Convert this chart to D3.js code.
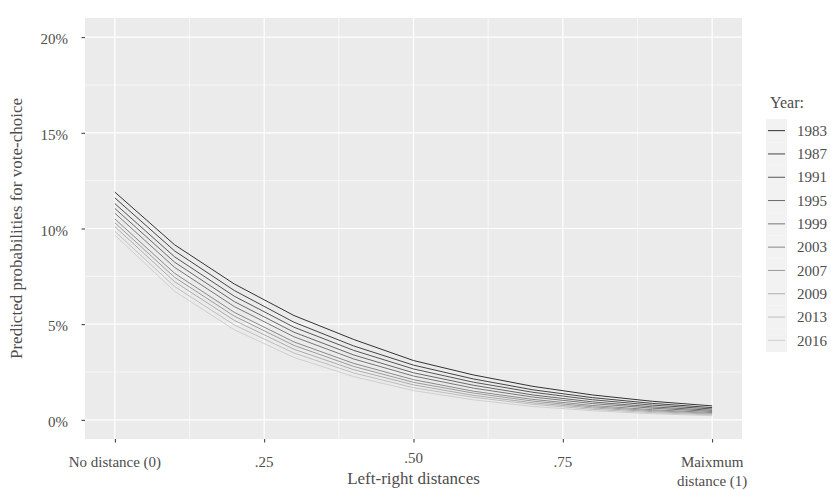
<!DOCTYPE html>
<html>
<head>
<meta charset="utf-8">
<script src="https://cdn.jsdelivr.net/npm/d3@7"></script>
<style>
    body { margin: 0; background: #ffffff; }
    text { font-family: "Liberation Serif", "DejaVu Serif", serif; fill: #4d4d4d; }
</style>
</head>
<body>
<svg id="chart" width="831" height="490"></svg>
<script>
// distances (0 -> 1)
var distances = [0, 0.1, 0.2, 0.3, 0.4, 0.5, 0.6, 0.7, 0.8, 0.9, 1];
var years = ["1983", "1987", "1991", "1995", "1999", "2003", "2007", "2009", "2013", "2016"];

// predicted probabilities, in %
var p1983 = [11.9, 9.15, 7.10, 5.45, 4.20, 3.10, 2.35, 1.75, 1.30, 0.97, 0.73];
var p1987 = [11.6, 8.83, 6.76, 5.10, 3.86, 2.86, 2.14, 1.57, 1.16, 0.86, 0.64];
var p1991 = [11.3, 8.52, 6.46, 4.84, 3.63, 2.66, 1.97, 1.44, 1.05, 0.77, 0.57];
var p1995 = [11.05, 8.24, 6.18, 4.58, 3.39, 2.46, 1.81, 1.30, 0.94, 0.68, 0.50];
var p1999 = [10.8, 7.97, 5.92, 4.34, 3.18, 2.29, 1.66, 1.19, 0.85, 0.61, 0.44];
var p2003 = [10.5, 7.66, 5.62, 4.07, 2.95, 2.10, 1.50, 1.07, 0.75, 0.53, 0.38];
var p2007 = [10.3, 7.45, 5.42, 3.89, 2.79, 1.96, 1.40, 0.98, 0.68, 0.48, 0.34];
var p2009 = [10.1, 7.22, 5.20, 3.69, 2.62, 1.83, 1.28, 0.89, 0.62, 0.43, 0.30];
var p2013 = [9.85, 6.97, 4.96, 3.49, 2.45, 1.68, 1.18, 0.81, 0.55, 0.38, 0.26];
var p2016 = [9.65, 6.72, 4.71, 3.26, 2.26, 1.53, 1.05, 0.70, 0.48, 0.32, 0.22];
var values = [p1983, p1987, p1991, p1995, p1999, p2003, p2007, p2009, p2013, p2016];

var xTicks = [0, 0.25, 0.5, 0.75, 1];
var xTickLabels = [["No distance (0)"], [".25"], [".50"], [".75"], ["Maixmum", "distance (1)"]];
var yTicks = [0, 5, 10, 15, 20];
var yTickLabels = ["0%", "5%", "10%", "15%", "20%"];

var svg = d3.select("#chart");
var panel = {left: 85, right: 742, top: 18, bottom: 439};

// ggplot style 5% expansion
var x = d3.scaleLinear().domain([-0.05, 1.05]).range([panel.left, panel.right]);
var y = d3.scaleLinear().domain([-1, 21]).range([panel.bottom, panel.top]);
var grey = d3.scaleLinear().domain([0, years.length - 1]).range(["#333333", "#cfcfcf"]);

//fond du panneau
svg.append("rect")
    .attr("x", panel.left).attr("y", panel.top)
    .attr("width", panel.right - panel.left).attr("height", panel.bottom - panel.top)
    .attr("fill", "#ebebeb");

// minor grid
var g = svg.append("g");
[0.125, 0.375, 0.625, 0.875].forEach(function (d) {
    g.append("line").attr("x1", x(d)).attr("x2", x(d)).attr("y1", panel.top).attr("y2", panel.bottom)
        .attr("stroke", "#fff").attr("stroke-width", 0.6);
});
[2.5, 7.5, 12.5, 17.5].forEach(function (d) {
    g.append("line").attr("y1", y(d)).attr("y2", y(d)).attr("x1", panel.left).attr("x2", panel.right)
        .attr("stroke", "#fff").attr("stroke-width", 0.6);
});
// major grid
xTicks.forEach(function (d) {
    g.append("line").attr("x1", x(d)).attr("x2", x(d)).attr("y1", panel.top).attr("y2", panel.bottom)
        .attr("stroke", "#fff").attr("stroke-width", 1.2);
});
yTicks.forEach(function (d) {
    g.append("line").attr("y1", y(d)).attr("y2", y(d)).attr("x1", panel.left).attr("x2", panel.right)
        .attr("stroke", "#fff").attr("stroke-width", 1.2);
});

// axes
var xAxis = svg.append("g").attr("transform", "translate(0," + panel.bottom + ")")
    .call(d3.axisBottom(x).tickValues(xTicks).tickSize(3.5).tickFormat(""));
var yAxis = svg.append("g").attr("transform", "translate(" + panel.left + ",0)")
    .call(d3.axisLeft(y).tickValues(yTicks).tickSize(3.5).tickFormat(function (d, i) { return yTickLabels[i]; }));
xAxis.select(".domain").remove();
yAxis.select(".domain").remove();
svg.selectAll(".tick line").attr("stroke", "#333333").attr("stroke-width", 1);
yAxis.selectAll(".tick text")
    .attr("x", -17).attr("dy", "0.45em")
    .style("font-family", "Liberation Serif").style("font-size", "15px").attr("fill", "#4d4d4d");

// x labels, the last one on two lines
xTicks.forEach(function (d, i) {
    var t = svg.append("text").attr("text-anchor", "middle")
        .attr("x", x(d)).attr("y", i === 2 ? 463 : 467)
        .style("font-size", "15px");
    xTickLabels[i].forEach(function (s, j) {
        t.append("tspan").attr("x", x(d)).attr("dy", j === 0 ? 0 : 19).text(s);
    });
});

// lines
var line = d3.line()
    .x(function (d, i) { return x(distances[i]); })
    .y(function (d) { return y(d); });

svg.append("g").selectAll("path")
    .data(values)
    .enter().append("path")
    .attr("d", line)
    .attr("fill", "none")
    .attr("stroke", function (d, i) { return grey(i); })
    .attr("stroke-width", 1);

// axis titles
svg.append("text").attr("text-anchor", "middle")
    .attr("x", (panel.left + panel.right) / 2).attr("y", 484)
    .style("font-size", "17px").attr("fill", "#222").text("Left-right distances");
svg.append("text").attr("text-anchor", "middle")
    .attr("transform", "translate(22," + (panel.top + panel.bottom) / 2 + ") rotate(-90)")
    .style("font-size", "17px").attr("fill", "#222").text("Predicted probabilities for vote-choice");

// legende
var leg = svg.append("g").attr("transform", "translate(766,119)");
leg.append("text").attr("x", 4).attr("y", -11).style("font-size", "16px").attr("fill", "#222").text("Year:");
var rowH = 23.3;
var item = leg.selectAll("g.item").data(years).enter().append("g")
    .attr("class", "item")
    .attr("transform", function (d, i) { return "translate(0," + i * rowH + ")"; });
item.append("rect").attr("width", 21).attr("height", rowH).attr("fill", "#f2f2f2");
item.append("line").attr("x1", 2).attr("x2", 19).attr("y1", rowH / 2).attr("y2", rowH / 2)
    .attr("stroke", function (d, i) { return grey(i); }).attr("stroke-width", 1);
item.append("text").attr("x", 31).attr("y", rowH / 2).attr("dy", "0.35em")
    .style("font-size", "15px").text(function (d) { return d; });
</script>
</body>
</html>
